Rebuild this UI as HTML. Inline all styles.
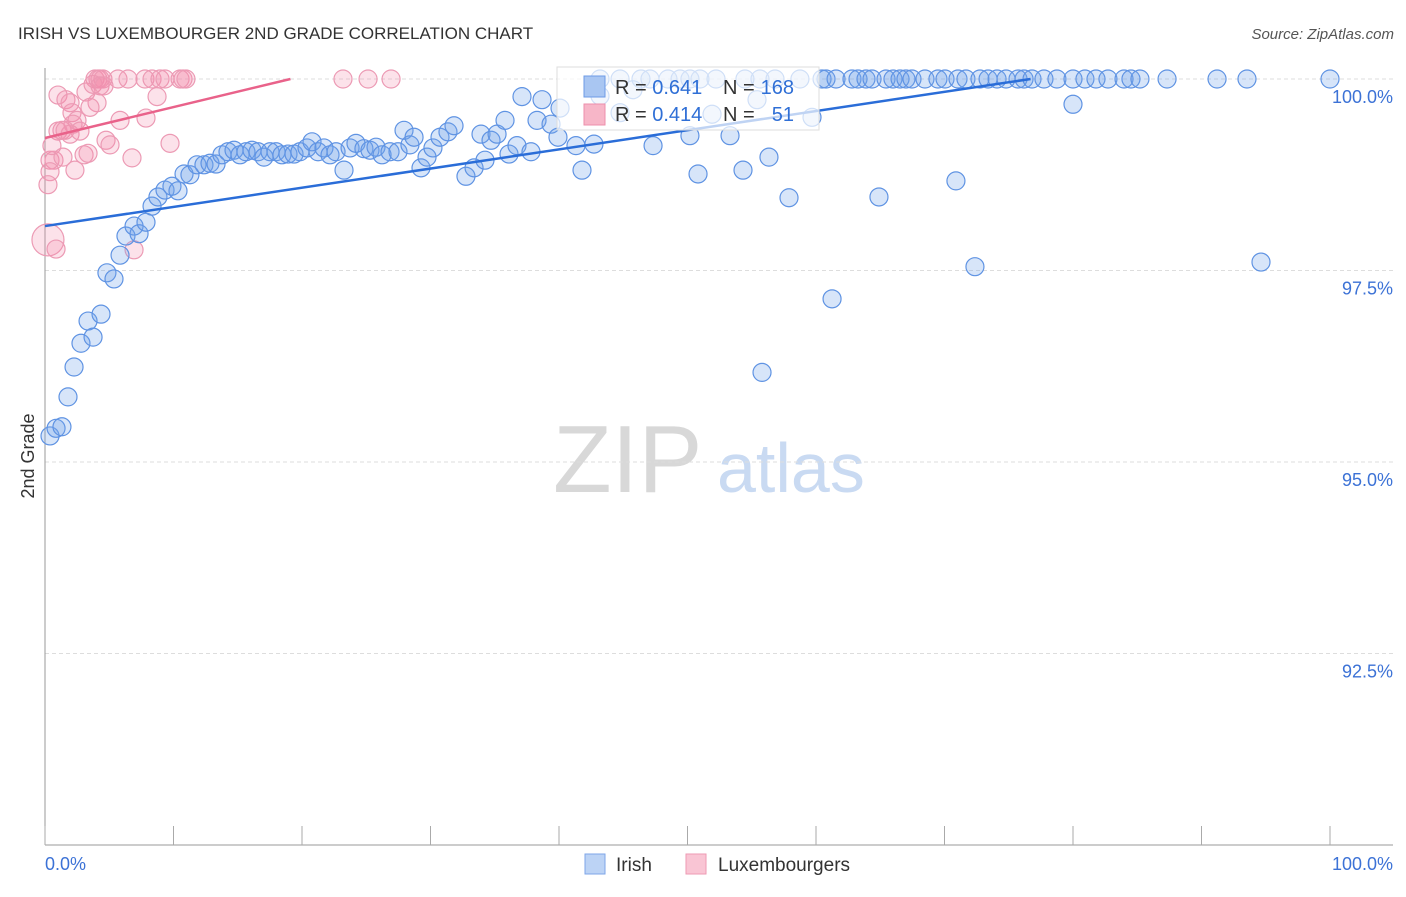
<!DOCTYPE html>
<html><head><meta charset="utf-8"><style>
body{margin:0;background:#fff;font-family:"Liberation Sans",sans-serif;}
svg text{font-family:"Liberation Sans",sans-serif;}
</style></head><body>
<svg id="c" width="1406" height="892" viewBox="0 0 1406 892" xmlns="http://www.w3.org/2000/svg">
<text x="18" y="39" font-size="17" fill="#333">IRISH VS LUXEMBOURGER 2ND GRADE CORRELATION CHART</text>
<text x="1394" y="39" font-size="15" fill="#555" text-anchor="end" font-style="italic">Source: ZipAtlas.com</text>
<g>
<text x="553" y="492" font-size="96" fill="#d8d8d8" font-family="Liberation Serif,serif">ZIP</text>
<text x="717" y="492" font-size="70" fill="#c9daf2">atlas</text>
</g>
<g id="grid"></g><g id="axes"></g><g id="marks"></g>
<g>
<rect x="557" y="67" width="262" height="63" fill="rgba(255,255,255,0.7)" stroke="#ddd"/>
<rect x="584" y="76" width="21" height="21" fill="#a9c6f2" stroke="#6d9be6"/>
<rect x="584" y="104" width="21" height="21" fill="#f7b6c8" stroke="#ee8fab"/>
<text x="615" y="94" font-size="20" fill="#333">R = <tspan fill="#2f6fd6">0.641</tspan></text>
<text x="723" y="94" font-size="20" fill="#333">N =</text>
<text x="794" y="94" font-size="20" fill="#2f6fd6" text-anchor="end">168</text>
<text x="615" y="121" font-size="20" fill="#333">R = <tspan fill="#2f6fd6">0.414</tspan></text>
<text x="723" y="121" font-size="20" fill="#333">N =</text>
<text x="794" y="121" font-size="20" fill="#2f6fd6" text-anchor="end">51</text>
</g>
<g>
<rect x="585" y="854" width="20" height="20" fill="#bcd3f5" stroke="#7ea6e8"/>
<text x="616" y="871" font-size="19" fill="#333">Irish</text>
<rect x="686" y="854" width="20" height="20" fill="#f9c5d4" stroke="#ee9ab3"/>
<text x="718" y="871" font-size="19" fill="#333">Luxembourgers</text>
</g>
<text transform="translate(34,456) rotate(-90)" font-size="18" fill="#333" text-anchor="middle">2nd Grade</text>
</svg>
<script>
const yTicks=[100,97.5,95,92.5];
const yTickLabels=["100.0%","97.5%","95.0%","92.5%"];
const xTickLabels=["0.0%","100.0%"];
const irishTopX=[46.38,48.48,50.97,52.22,54.47,55.64,56.81,58.75,60.47,60.78,61.56,62.8,63.27,63.89,64.36,65.45,65.99,66.54,67,67.47,68.48,69.49,70.04,71.05,71.67,72.76,73.39,74.09,74.79,75.72,76.19,76.81,77.74,78.75,80,80.93,81.79,82.72,83.97,84.51,85.21,87.32,91.21,93.54,100,43.19,44.75,47.08,49.42,50.19];
const irishX=[0.39,0.86,1.32,1.79,2.26,2.8,3.35,3.74,4.36,4.82,5.37,5.84,6.3,6.93,7.32,7.86,8.33,8.79,9.34,9.88,10.35,10.82,11.28,11.83,12.37,12.84,13.31,13.77,14.24,14.71,15.18,15.64,16.11,16.58,17.04,17.51,17.98,18.44,18.91,19.38,19.84,20.39,20.78,21.25,21.71,22.18,22.65,23.27,23.74,24.2,24.82,25.29,25.76,26.23,26.85,27.47,27.94,28.4,28.72,29.26,29.73,30.19,30.74,31.36,31.83,32.76,33.39,33.93,34.24,34.71,35.18,35.8,36.11,36.73,37.12,37.82,38.29,38.68,39.38,39.92,40.08,41.32,41.79,42.72,43.19,44.75,45.76,47.32,50.19,50.82,51.91,53.31,54.32,55.41,56.34,57.9,59.69,61.25,55.8,64.9,70.89,72.37,80,94.63];
const irishY=[95.34,95.44,95.46,95.85,96.24,96.55,96.84,96.63,96.93,97.47,97.39,97.7,97.95,98.08,97.98,98.13,98.34,98.46,98.55,98.6,98.54,98.76,98.75,98.88,98.88,98.9,98.89,99.01,99.05,99.07,99.01,99.05,99.07,99.05,98.98,99.05,99.05,99.01,99.02,99.02,99.05,99.1,99.18,99.05,99.1,99.01,99.05,98.81,99.1,99.16,99.09,99.07,99.11,99.01,99.05,99.05,99.33,99.14,99.24,98.84,98.98,99.1,99.24,99.31,99.39,98.73,98.84,99.28,98.94,99.2,99.28,99.46,99.02,99.13,99.77,99.05,99.46,99.73,99.41,99.24,99.62,99.13,98.81,99.15,99.78,99.56,99.86,99.13,99.26,98.76,99.54,99.26,98.81,99.73,98.98,98.45,99.5,97.13,96.17,98.46,98.67,97.55,99.67,97.61];
const luxX=[3.89,4.12,4.28,4.51,5.68,6.46,7.78,8.33,8.95,9.34,10.51,10.74,10.97,23.19,25.14,26.93,
1.01,1.63,1.95,2.1,3.19,3.74,4.28,4.59,4.05,3.5,2.49,2.18,1.32,1.01,1.95,2.72,5.84,7.86,8.72,4.75,5.06,6.77,9.73,3.04,3.35,0.7,0.39,0.54,1.4,2.33,0.39,0.23,0.23,0.86,6.93,1.56];
const luxY=[100,100,100,100,100,100,100,100,100,100,100,100,100,100,100,100,
99.79,99.73,99.69,99.56,99.83,99.93,99.91,99.91,99.69,99.63,99.46,99.41,99.33,99.32,99.28,99.32,99.46,99.49,99.77,99.2,99.14,98.97,99.16,99.01,99.03,98.94,98.94,99.13,98.98,98.81,98.79,98.62,97.9,97.78,97.77,99.33];
const luxBigIndex=48;
const irishTrendX=[0,76.7];const irishTrendY=[98.08,100];
const luxTrendX=[0,19.1];const luxTrendY=[99.23,100];
const X0=45,X1=1330,Y100=79,PX25=191.5;
const sx=v=>X0+(v/100)*(X1-X0);
const sy=v=>Y100+(100-v)/2.5*PX25;
const NS="http://www.w3.org/2000/svg";
function mk(tag,attrs,parent){const e=document.createElementNS(NS,tag);for(const k in attrs)e.setAttribute(k,attrs[k]);parent.appendChild(e);return e;}
const grid=document.getElementById('grid'),axes=document.getElementById('axes'),marks=document.getElementById('marks');
yTicks.forEach((t,i)=>{
 const l=mk('line',{x1:X0,x2:1393,y1:sy(t),y2:sy(t),stroke:'#ddd','stroke-dasharray':'4,3'},grid);
 
 
 const tx=mk('text',{x:1393,y:sy(t)+24,'font-size':18,fill:'#3c72d6','text-anchor':'end'},axes);
 tx.textContent=yTickLabels[i];
 
 
});
const ax=mk('line',{x1:X0,x2:1393,y1:845,y2:845,stroke:'#999'},axes);


const ay=mk('line',{x1:X0,x2:X0,y1:68,y2:845,stroke:'#999'},axes);


for(let i=0;i<=10;i++){const t=mk('line',{x1:sx(i*10),x2:sx(i*10),y1:826,y2:845,stroke:'#aaa'},axes);
 
 }
[[0,'start',45],[100,'end',1393]].forEach((d,i)=>{const t=mk('text',{x:d[2],y:870,'font-size':18,fill:'#3c72d6','text-anchor':d[1]},axes);t.textContent=xTickLabels[i];
 
 });
luxX.forEach((v,i)=>{const c=mk('circle',{cx:sx(v),cy:sy(luxY[i]),r:i===luxBigIndex?16:9,fill:'rgba(242,140,170,0.25)',stroke:'#ec9ab4','stroke-width':1.2},marks);
 
 });
function irishDot(x,y){const c=mk('circle',{cx:sx(x),cy:sy(y),r:9,fill:'rgba(110,160,235,0.28)',stroke:'#5f93e3','stroke-width':1.2},marks);
 
 }
irishTopX.forEach(v=>irishDot(v,100));
irishX.forEach((v,i)=>irishDot(v,irishY[i]));
const t1=mk('line',{x1:sx(irishTrendX[0]),y1:sy(irishTrendY[0]),x2:sx(irishTrendX[1]),y2:sy(irishTrendY[1]),stroke:'#2a6dd8','stroke-width':2.5},marks);


const t2=mk('line',{x1:sx(luxTrendX[0]),y1:sy(luxTrendY[0]),x2:sx(luxTrendX[1]),y2:sy(luxTrendY[1]),stroke:'#e9628a','stroke-width':2.5},marks);


</script>
</body></html>
